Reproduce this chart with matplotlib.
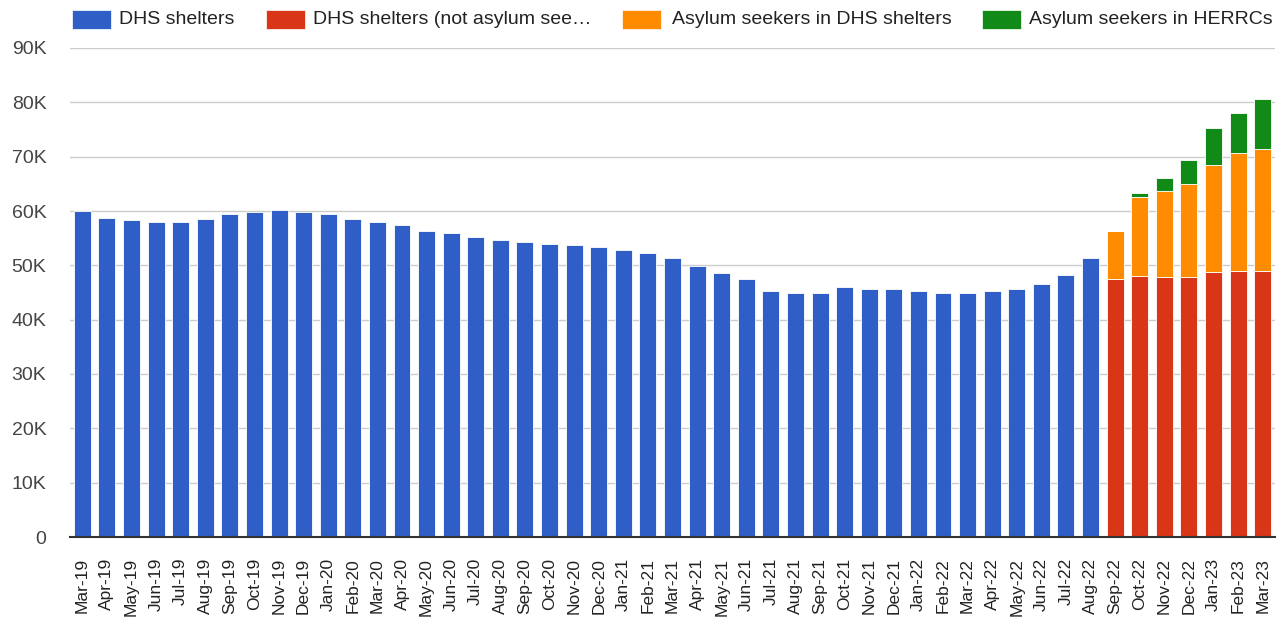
import matplotlib
matplotlib.use("Agg")
import matplotlib.pyplot as plt
from matplotlib.patches import Rectangle
import numpy as np

plt.rcParams['font.family'] = ['Liberation Sans', 'DejaVu Sans']

# months Mar-19 .. Mar-23
months = ['Mar-19', 'Apr-19', 'May-19', 'Jun-19', 'Jul-19', 'Aug-19', 'Sep-19', 'Oct-19',
          'Nov-19', 'Dec-19', 'Jan-20', 'Feb-20', 'Mar-20', 'Apr-20', 'May-20', 'Jun-20',
          'Jul-20', 'Aug-20', 'Sep-20', 'Oct-20', 'Nov-20', 'Dec-20', 'Jan-21', 'Feb-21',
          'Mar-21', 'Apr-21', 'May-21', 'Jun-21', 'Jul-21', 'Aug-21', 'Sep-21', 'Oct-21',
          'Nov-21', 'Dec-21', 'Jan-22', 'Feb-22', 'Mar-22', 'Apr-22', 'May-22', 'Jun-22',
          'Jul-22', 'Aug-22', 'Sep-22', 'Oct-22', 'Nov-22', 'Dec-22', 'Jan-23', 'Feb-23',
          'Mar-23']

# total DHS shelters, Mar-19 .. Aug-22 (thousands)
dhs_total = [60.0, 58.8, 58.3, 58.0, 58.0, 58.6, 59.5, 59.8, 60.1, 59.8, 59.5, 58.6,
             58.0, 57.4, 56.4, 55.9, 55.3, 54.7, 54.3, 54.0, 53.7, 53.4, 52.8, 52.3,
             51.3, 49.8, 48.6, 47.4, 45.3, 45.0, 45.0, 46.0, 45.6, 45.6, 45.3, 45.0,
             45.0, 45.3, 45.6, 46.6, 48.3, 51.3]

# split series, Sep-22 .. Mar-23 (thousands)
dhs_not_asylum = [47.5, 48.1, 47.8, 47.8, 48.7, 49.0, 49.0]
asylum_dhs = [8.9, 14.4, 15.9, 17.2, 19.8, 21.6, 22.5]
asylum_herrc = [0.0, 0.8, 2.3, 4.4, 6.8, 7.5, 9.2]

labels = ['DHS shelters', 'DHS shelters (not asylum see\u2026',
          'Asylum seekers in DHS shelters', 'Asylum seekers in HERRCs']
colors = ['#2f5ec6', '#d93517', '#ff8c00', '#128a17']

W, H = 1285, 618
fig = plt.figure(figsize=(W / 100, H / 100), dpi=100)
ax = fig.add_axes([70 / W, (H - 537) / H, 1205 / W, 489 / H])

x = np.arange(len(months))
n_blue = len(dhs_total)
bw = 0.69
ekw = dict(edgecolor='white', linewidth=0.6, zorder=3)

ax.bar(x[:n_blue], np.array(dhs_total) * 1000, bw, color=colors[0], **ekw)
xs = x[n_blue:]
red = np.array(dhs_not_asylum) * 1000
org = np.array(asylum_dhs) * 1000
grn = np.array(asylum_herrc) * 1000
ax.bar(xs, red, bw, color=colors[1], **ekw)
ax.bar(xs, org, bw, bottom=red, color=colors[2], **ekw)
ax.bar(xs, grn, bw, bottom=red + org, color=colors[3], **ekw)

ax.set_xlim(-0.5, len(months) - 0.5)
ax.set_ylim(0, 90000)
yt = np.arange(0, 90001, 10000)
ax.set_yticks(yt)
ax.set_yticklabels(['0'] + ['%dK' % (v // 1000) for v in yt[1:]])
ax.set_xticks(x)
ax.set_xticklabels(months, rotation=90)
ax.tick_params(axis='y', length=0, pad=17, labelsize=14, labelcolor='#444444')
ax.tick_params(axis='x', length=0, pad=15, labelsize=12.5, labelcolor='#222222')
for lbl in ax.get_xticklabels():
    lbl.set_verticalalignment('top')

ax.grid(axis='y', color='#cccccc', linewidth=1, zorder=0)
ax.set_axisbelow(True)
for s in ['top', 'right', 'left']:
    ax.spines[s].set_visible(False)
ax.spines['bottom'].set_color('#333333')
ax.spines['bottom'].set_linewidth(1.5)
ax.spines['bottom'].set_zorder(4)

# legend across the top
sq_x = [72, 266, 622, 982]
tx_x = [119, 313, 672, 1029]
for c, lab, sx, tx in zip(colors, labels, sq_x, tx_x):
    fig.add_artist(Rectangle((sx / W, (H - 29) / H), 39 / W, 19 / H,
                             transform=fig.transFigure, facecolor=c,
                             edgecolor='white', linewidth=0.5))
    fig.text(tx / W, (H - 19.5) / H, lab, fontsize=14, color='#222222',
             va='center', ha='left')

fig.savefig('out.png', dpi=100)
